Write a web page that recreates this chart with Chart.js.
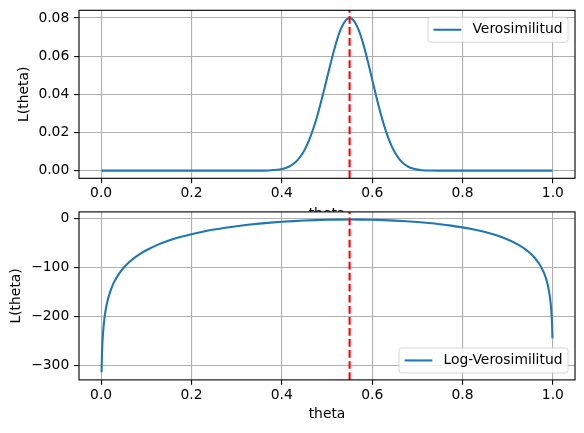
<!DOCTYPE html>
<html><head><meta charset="utf-8">
<script src="https://cdn.jsdelivr.net/npm/chart.js@4"></script>
<style>
html,body{margin:0;padding:0;background:#fff;}
#wrap{position:relative;width:584px;height:433px;overflow:hidden;background:#fff;}
canvas{position:absolute;left:0;top:0;}
</style></head><body>
<div id="wrap">
<canvas id="c1" width="584" height="433"></canvas>
<canvas id="c2" width="584" height="433"></canvas>
</div>
<script>
// ---- data ----
const thetaLik = [0.001, 0.1, 0.2, 0.3, 0.33, 0.35, 0.37, 0.39, 0.40, 0.41, 0.42, 0.43, 0.44, 0.45, 0.46, 0.47, 0.48, 0.49, 0.50, 0.51, 0.52, 0.53, 0.54, 0.55, 0.56, 0.57, 0.58, 0.59, 0.60, 0.61, 0.62, 0.63, 0.64, 0.65, 0.66, 0.67, 0.68, 0.69, 0.70, 0.71, 0.73, 0.75, 0.8, 0.9, 0.999];
const likValues = [0, 0, 0, 0.0000001, 0.000003, 0.0000196, 0.000102, 0.000433, 0.000829, 0.001514, 0.002638, 0.004405, 0.007027, 0.010749, 0.015764, 0.02220, 0.029986, 0.03893, 0.04846, 0.05802, 0.06674, 0.07383, 0.07839, 0.07999, 0.07839, 0.07369, 0.06654, 0.05761, 0.04779, 0.03797, 0.02887, 0.02097, 0.014523, 0.00959, 0.006024, 0.003596, 0.002036, 0.001089, 0.000545, 0.00026, 0.0000483, 0.0000067, 0, 0, 0];
const thetaLog = [0.001, 0.002, 0.003, 0.005, 0.0075, 0.01, 0.0125, 0.015, 0.02, 0.025, 0.03, 0.04, 0.05, 0.06, 0.075, 0.0875, 0.1, 0.125, 0.15, 0.175, 0.2, 0.225, 0.25, 0.275, 0.3, 0.325, 0.35, 0.375, 0.4, 0.425, 0.45, 0.475, 0.5, 0.525, 0.55, 0.575, 0.6, 0.625, 0.65, 0.675, 0.7, 0.725, 0.75, 0.775, 0.8, 0.825, 0.85, 0.875, 0.9, 0.925, 0.94, 0.95, 0.96, 0.97, 0.975, 0.98, 0.985, 0.9875, 0.99, 0.995, 0.997, 0.998, 0.999];
const logLikValues = [-313.69, -275.61, -253.35, -225.35, -203.16, -187.45, -175.29, -165.37, -149.79, -137.74, -127.95, -112.59, -100.79, -91.24, -79.69, -71.82, -65.10, -54.09, -45.37, -38.23, -32.28, -27.22, -22.91, -19.19, -15.98, -13.22, -10.84, -8.81, -7.10, -5.68, -4.53, -3.65, -3.03, -2.65, -2.53, -2.65, -3.04, -3.70, -4.65, -5.91, -7.51, -9.49, -11.92, -14.86, -18.41, -22.73, -28.02, -34.63, -43.13, -54.56, -63.72, -71.35, -80.81, -93.19, -101.10, -110.87, -123.53, -131.60, -141.50, -172.41, -195.29, -213.48, -244.62];
const thetaMLE = 0.55;
const seriesLabels = ['Verosimilitud', 'Log-Verosimilitud'];
const xTitle = 'theta';
const yTitle = 'L(theta)';
const xTicks = [0, 0.2, 0.4, 0.6, 0.8, 1.0];
const xTickLabels = ['0.0', '0.2', '0.4', '0.6', '0.8', '1.0'];
const yTicksTop = [0, 0.02, 0.04, 0.06, 0.08];
const yTickLabelsTop = ['0.00', '0.02', '0.04', '0.06', '0.08'];
const yTicksBottom = [-300, -200, -100, 0];
const yTickLabelsBottom = ['\u2212300', '\u2212200', '\u2212100', '0'];

// ---- styling ----
const PT = 100 / 72;
const FS = 10 * PT;
const FONT = "'DejaVu Sans'";
Chart.defaults.font.family = FONT;
Chart.defaults.font.size = FS;
Chart.defaults.color = '#000';
Chart.defaults.animation = false;

const mplPlugin = {
  id: 'mpl',
  beforeDraw(chart) {
    const {ctx, chartArea: a} = chart;
    ctx.save();
    ctx.fillStyle = '#fff';
    ctx.fillRect(a.left, a.top, a.right - a.left, a.bottom - a.top);
    ctx.restore();
  },
  afterDatasetsDraw(chart) {
    const {ctx, chartArea: a, scales} = chart;
    const px = scales.x.getPixelForValue(thetaMLE);
    ctx.save();
    ctx.beginPath();
    ctx.rect(a.left, a.top, a.right - a.left, a.bottom - a.top);
    ctx.clip();
    ctx.strokeStyle = '#ff0000';
    ctx.lineWidth = 1.5 * PT;
    ctx.setLineDash([3.7 * 1.5 * PT, 1.6 * 1.5 * PT]);
    ctx.beginPath();
    ctx.moveTo(px, a.bottom);
    ctx.lineTo(px, a.top);
    ctx.stroke();
    ctx.restore();
    ctx.save();
    ctx.strokeStyle = '#000';
    ctx.lineWidth = 0.8 * PT;
    ctx.strokeRect(a.left, a.top, a.right - a.left, a.bottom - a.top);
    ctx.restore();
  },
  afterDraw(chart) {
    const {ctx, chartArea: a} = chart;
    const pos = chart.options.plugins.mpl.legendPos;
    const ds = chart.data.datasets[0];
    ctx.save();
    ctx.font = FS + 'px ' + FONT;
    const tw = ctx.measureText(ds.label).width;
    const bp = 0.4 * FS, hl = 2 * FS, htp = 0.8 * FS, bap = 0.5 * FS;
    const w = 2 * bp + hl + htp + tw;
    const h = 25;
    const right = a.right - bap;
    const left = right - w;
    const top = pos === 'upper right' ? a.top + bap : a.bottom - bap - h;
    const r = 0.2 * FS;
    ctx.beginPath();
    ctx.roundRect(left, top, w, h, r);
    ctx.fillStyle = 'rgba(255,255,255,0.8)';
    ctx.fill();
    ctx.strokeStyle = 'rgba(204,204,204,0.8)';
    ctx.lineWidth = 1;
    ctx.stroke();
    const cy = top + h / 2;
    ctx.beginPath();
    ctx.moveTo(left + bp, cy);
    ctx.lineTo(left + bp + hl, cy);
    ctx.strokeStyle = ds.borderColor;
    ctx.lineWidth = 1.5 * PT;
    ctx.stroke();
    ctx.fillStyle = '#000';
    ctx.textBaseline = 'middle';
    ctx.textAlign = 'left';
    ctx.fillText(ds.label, left + bp + hl + htp, cy);
    ctx.restore();
  }
};

function gridOpts() {
  return {color: '#b0b0b0', lineWidth: 0.8 * PT, tickColor: '#000', tickWidth: 0.8 * PT,
          tickLength: 3.5 * PT, drawTicks: true, drawOnChartArea: true};
}

function makeChart(id, xs, ys, label, yMin, yMax, yTickVals, yTickLbls, pad, yTitlePad, xTitlePad, legendPos) {
  return new Chart(document.getElementById(id), {
    type: 'line',
    data: {
      datasets: [{
        label: label,
        data: xs.map((x, i) => ({x: x, y: ys[i]})),
        borderColor: '#1f77b4',
        borderWidth: 1.5 * PT,
        pointRadius: 0,
        fill: false,
        cubicInterpolationMode: 'monotone'
      }]
    },
    options: {
      responsive: false,
      animation: false,
      layout: {padding: pad},
      plugins: {legend: {display: false}, tooltip: {enabled: false}, mpl: {legendPos: legendPos}},
      scales: {
        x: {
          type: 'linear', min: -0.0489, max: 1.0489,
          afterBuildTicks: s => { s.ticks = xTicks.map(v => ({value: v})); },
          afterFit: s => { s.height = 50; s.paddingLeft = 0; s.paddingRight = 0; },
          ticks: {callback: (v, i) => xTickLabels[i], padding: 2, maxRotation: 0, minRotation: 0,
                  autoSkip: false, color: '#000', font: {size: FS, lineHeight: 1.2}},
          grid: gridOpts(),
          border: {display: false},
          title: {display: true, text: xTitle, color: '#000', font: {size: FS, lineHeight: 1.2},
                  padding: {top: 0, bottom: xTitlePad}}
        },
        y: {
          type: 'linear', min: yMin, max: yMax,
          afterBuildTicks: s => { s.ticks = yTickVals.map(v => ({value: v})); },
          afterFit: s => { s.width = 79; s.paddingTop = 0; s.paddingBottom = 0; },
          ticks: {callback: (v, i) => yTickLbls[i], padding: 3.5 * PT, autoSkip: false,
                  color: '#000', font: {size: FS, lineHeight: 1.2}},
          grid: gridOpts(),
          border: {display: false},
          title: {display: true, text: yTitle, color: '#000', font: {size: FS, lineHeight: 1.2},
                  padding: {top: yTitlePad, bottom: 0}}
        }
      }
    },
    plugins: [mplPlugin]
  });
}

makeChart('c1', thetaLik, likValues, seriesLabels[0], -0.0040, 0.0840, yTicksTop, yTickLabelsTop,
          {left: 0, right: 9, top: 10.3, bottom: 204.7}, 16.2, 5.8, 'upper right');
makeChart('c2', thetaLog, logLikValues, seriesLabels[1], -329.3, 13.1, yTicksBottom, yTickLabelsBottom,
          {left: 0, right: 9, top: 211.9, bottom: 3.1}, 8.2, 6.8, 'lower right');
</script>
</body></html>
